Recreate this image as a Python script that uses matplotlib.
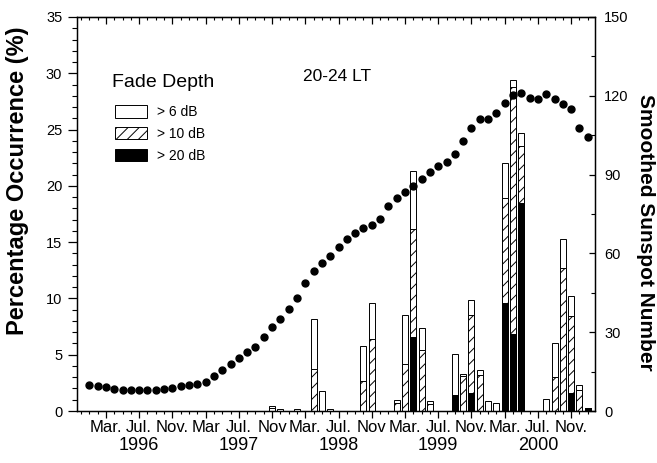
import numpy as np
from matplotlib import pyplot as plt
from matplotlib.ticker import MultipleLocator, FixedLocator

plt.rcParams['font.family'] = ['Liberation Sans', 'DejaVu Sans']
plt.rcParams['hatch.linewidth'] = 0.7

# months counted from Jan 1996 (0 = Jan 1996)
ssn_months = np.arange(0, 61)
ssn = [10.0, 9.6, 9.0, 8.3, 8.0, 8.1, 8.1, 8.1, 8.1, 8.2, 8.8, 9.4,
       9.9, 10.3, 11.0, 13.5, 15.8, 18.0, 20.2, 22.3, 24.5, 28.3, 32.1, 35.0,
       38.7, 43.1, 48.6, 53.3, 56.2, 59.1, 62.3, 65.4, 67.6, 69.6, 70.8, 73.1,
       78.2, 81.0, 83.5, 85.5, 88.5, 91.1, 93.3, 94.9, 97.7, 102.8, 107.9, 111.1,
       111.1, 113.3, 117.1, 120.3, 121.2, 119.3, 118.7, 120.6, 118.7, 116.8, 114.8, 107.6,
       104.4]

# percentage occurrence of fades per month
bar_months = np.array([22, 23, 25, 27, 28, 29, 33, 34, 37, 38, 39, 40, 41, 44,
                       45, 46, 47, 48, 49, 50, 51, 52, 55, 56, 57, 58, 59, 60])
fade6 = np.array([0.45, 0.15, 0.15, 8.2, 1.8, 0.15, 5.8, 9.6, 1.0, 8.5, 21.3, 7.4, 0.85, 5.1,
                  3.25, 9.9, 3.6, 0.9, 0.75, 22.0, 29.4, 24.7, 1.05, 6.0, 15.3, 10.2, 2.3, 0.3])
fade10 = np.array([0.25, 0, 0, 3.7, 0, 0, 2.7, 6.4, 0.7, 4.2, 16.2, 5.4, 0.6, 1.45,
                   3.1, 8.5, 3.2, 0, 0, 18.9, 28.8, 23.5, 0, 3.0, 12.7, 8.4, 1.9, 0.3])
fade20 = np.array([0, 0, 0, 0, 0, 0, 0, 0, 0, 0, 6.6, 0, 0, 1.4,
                   0, 1.6, 0, 0, 0, 9.6, 6.8, 18.5, 0, 0, 0, 1.6, 0, 0.3])

label_months = [2, 6, 10, 14, 18, 22, 26, 30, 34, 38, 42, 46, 50, 54, 58]
month_labels = ['Mar.', 'Jul.', 'Nov.', 'Mar', 'Jul.', 'Nov', 'Mar.', 'Jul.', 'Nov',
                'Mar.', 'Jul.', 'Nov.', 'Mar.', 'Jul.', 'Nov.']
year_months = [6, 18, 30, 42, 54]
years = ['1996', '1997', '1998', '1999', '2000']

fig = plt.figure(figsize=(6.57, 4.63), dpi=100)
ax = fig.add_axes([0.117, 0.1123, 0.789, 0.851])

w = 0.72
m = fade6 > 0
b6 = ax.bar(bar_months[m], fade6[m], width=w, color='white', edgecolor='black', linewidth=0.7)
m = fade10 > 0
b10 = ax.bar(bar_months[m], fade10[m], width=w, color='white', edgecolor='black',
             linewidth=0.7, hatch='///')
m = fade20 > 0
b20 = ax.bar(bar_months[m], fade20[m], width=w, color='black', edgecolor='black', linewidth=0.7)

ax.set_xlim(-1.5, 60.9)
ax.set_ylim(0, 35)
ax.yaxis.set_major_locator(MultipleLocator(5))
ax.yaxis.set_minor_locator(MultipleLocator(1))
ax.xaxis.set_major_locator(FixedLocator(label_months))
ax.xaxis.set_minor_locator(MultipleLocator(1))
ax.set_xticklabels(month_labels, fontsize=12)
ax.tick_params(axis='x', which='major', direction='out', length=5, width=0.9, pad=1.5)
ax.tick_params(axis='x', which='minor', direction='out', length=2.5, width=0.8)
ax.tick_params(axis='y', which='major', direction='out', length=6.5, width=0.9, pad=4,
               labelsize=10.5)
ax.tick_params(axis='y', which='minor', direction='out', length=3.5, width=0.8)
for s in ax.spines.values():
    s.set_linewidth(1.0)

for mo, yr in zip(year_months, years):
    ax.text(mo, -0.088, yr, transform=ax.get_xaxis_transform(), ha='center', va='center',
            fontsize=13)

top = ax.secondary_xaxis('top')
top.xaxis.set_major_locator(FixedLocator(label_months))
top.xaxis.set_minor_locator(MultipleLocator(1))
top.tick_params(axis='x', which='major', direction='in', length=5, width=0.9, labeltop=False)
top.tick_params(axis='x', which='minor', direction='in', length=2.5, width=0.8)

ax.set_ylabel('Percentage Occurrence (%)', fontsize=17, fontweight='bold', va='center')
ax.yaxis.set_label_coords(-0.114, 0.584)

ax.text(0.502, 0.848, '20-24 LT', transform=ax.transAxes, ha='center', va='center',
        fontsize=12.5)

ax.text(0.0676, 0.833, 'Fade Depth', transform=ax.transAxes, ha='left', va='center',
        fontsize=14)
leg = ax.legend([b6, b10, b20], ['> 6 dB', '> 10 dB', '> 20 dB'],
                loc='upper left', bbox_to_anchor=(0.052, 0.804), frameon=False,
                fontsize=10, handlelength=2.3, handleheight=1.0, handletextpad=0.7,
                labelspacing=0.55, borderpad=0.3)

# sunspot numbers on the right axis
ax2 = ax.twinx()
ax2.plot(ssn_months, ssn, 'o', color='black', markersize=5)
ax2.set_ylim(0, 150)
ax2.yaxis.set_major_locator(MultipleLocator(30))
ax2.yaxis.set_minor_locator(MultipleLocator(15))
ax2.tick_params(axis='y', which='major', direction='in', length=4, width=0.9, pad=6.5,
                labelsize=10.5)
ax2.tick_params(axis='y', which='minor', direction='in', length=3, width=0.8)
ax2.set_ylabel('Smoothed Sunspot Number', fontsize=15, fontweight='bold', rotation=270,
               va='center')
ax2.yaxis.set_label_coords(1.097, 0.454)

fig.savefig('out.png', dpi=100)
